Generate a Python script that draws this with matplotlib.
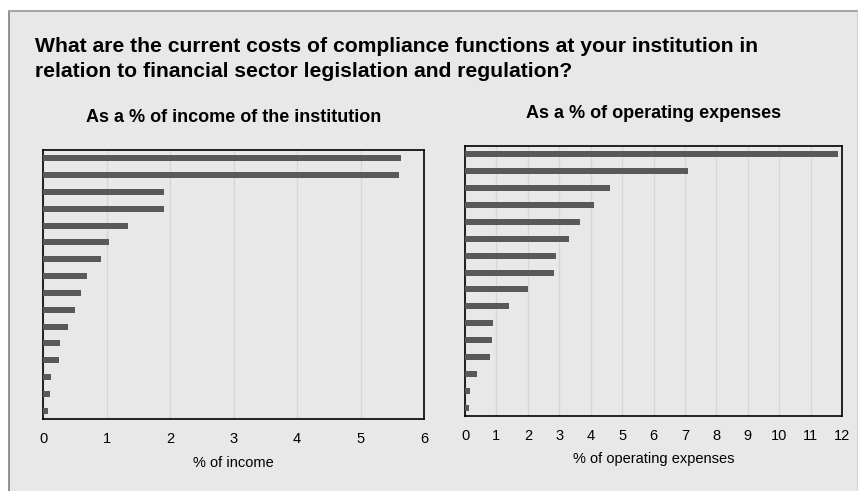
import matplotlib.pyplot as plt
import numpy as np
from matplotlib.patches import Rectangle

plt.rcParams['font.family'] = ['Liberation Sans', 'DejaVu Sans']

# data, largest first (top bar)
income_pct = [5.63, 5.60, 1.90, 1.90, 1.34, 1.04, 0.91, 0.70, 0.60, 0.50,
              0.40, 0.26, 0.25, 0.12, 0.11, 0.08]
opex_pct = [11.88, 7.10, 4.60, 4.11, 3.65, 3.31, 2.90, 2.84, 2.00, 1.41,
            0.89, 0.85, 0.81, 0.38, 0.15, 0.14]

title = ("What are the current costs of compliance functions at your institution in\n"
         "relation to financial sector legislation and regulation?")

bg = '#e8e8e8'
bar_col = '#595959'
W, H = 858, 491

fig = plt.figure(figsize=(W / 100, H / 100), dpi=100)
fig.patch.set_facecolor('white')

# gray panel with border on left and top
fig.patches.append(Rectangle((9 / W, 0), 1 - 9 / W, 1 - 11 / H, transform=fig.transFigure,
                             facecolor=bg, edgecolor='none', zorder=-10))
fig.add_artist(plt.Line2D([9 / W, 9 / W], [0, 1 - 11 / H], transform=fig.transFigure,
                          color='#7f7f7f', lw=1.2, zorder=-5))
fig.add_artist(plt.Line2D([9 / W, 1], [1 - 11 / H, 1 - 11 / H], transform=fig.transFigure,
                          color='#a6a6a6', lw=1.5, zorder=-5))
fig.add_artist(plt.Line2D([857 / W, 857 / W], [0, 1 - 11 / H], transform=fig.transFigure,
                          color='#d0d0d0', lw=0.8, zorder=-5))

fig.text(35 / W, 1 - 59 / H, title, ha='left', va='center', fontsize=15.2,
         fontweight='bold', linespacing=1.35)


def make_panel(rect, vals, xmax, xlabel, subtitle, sub_y, tick_y, lab_y):
    x0, y0, x1, y1 = rect
    ax = fig.add_axes([x0 / W, 1 - y1 / H, (x1 - x0) / W, (y1 - y0) / H])
    ax.set_facecolor(bg)
    y = np.arange(len(vals))
    ax.barh(y, vals, height=0.36, color=bar_col, zorder=3)
    ax.set_ylim(len(vals) - 0.5, -0.5)
    ax.set_xlim(0, xmax)
    ax.set_xticks(range(0, xmax + 1))
    ax.set_xticklabels([])
    ax.set_yticks([])
    ax.grid(axis='x', color='#d6d6d6', lw=1, zorder=0)
    ax.tick_params(axis='x', length=0)
    for s in ax.spines.values():
        s.set_color('black')
        s.set_linewidth(1.2)
    for t in range(0, xmax + 1):
        px = x0 + (x1 - x0) * t / xmax
        fig.text(px / W, 1 - tick_y / H, str(t), ha='center', va='center', fontsize=10.5)
    fig.text((x0 + x1) / 2 / W, 1 - lab_y / H, xlabel, ha='center', va='center',
             fontsize=10.5)
    fig.text((x0 + x1) / 2 / W, 1 - sub_y / H, subtitle, ha='center', va='center',
             fontsize=13, fontweight='bold')
    return ax


make_panel((43, 150, 424, 419), income_pct, 6, '% of income',
           'As a % of income of the institution', 117, 439, 463)
make_panel((465, 146, 842, 416), opex_pct, 12, '% of operating expenses',
           'As a % of operating expenses', 113, 436, 459)

fig.savefig('out.png', dpi=100, facecolor=fig.get_facecolor())
